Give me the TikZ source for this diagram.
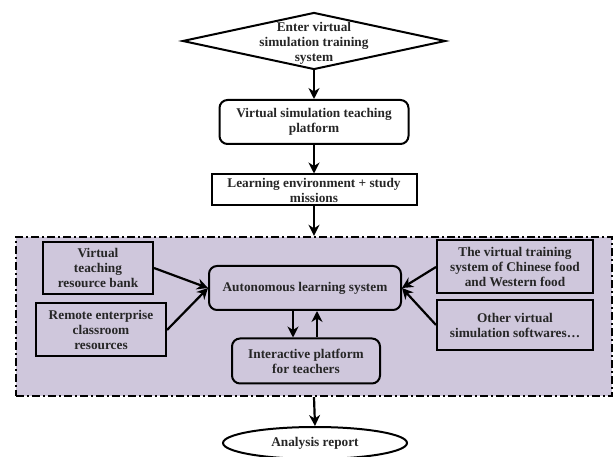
\documentclass[tikz,border=0pt]{standalone}
\usepackage{fontspec}
\setmainfont{Liberation Serif}
\usetikzlibrary{arrows.meta,shapes.geometric}
\definecolor{lilac}{HTML}{CFC7DC}
\begin{document}
\begin{tikzpicture}[x=1pt,y=-1pt,
    font=\bfseries\fontsize{13.3}{15}\selectfont, align=center, text=black!85,
    box/.style={draw,line width=2pt,inner sep=0pt},
    rbox/.style={box,rounded corners=8pt},
    arr/.style={-{Stealth[length=11pt,width=11pt]},line width=2.2pt}]
    \useasboundingbox (0,0) rectangle (614,457);
    \node[box,diamond,fill=white,minimum width=263pt,minimum height=57pt] (enter) at (314,41) {};
    \node (entertext) at (314,43) {Enter virtual\\ simulation training\\ system};
    \node[rbox,minimum width=189pt,minimum height=44pt] (platform) at (314,122) {Virtual simulation teaching\\ platform};
    \node[box,minimum width=205pt,minimum height=31pt] (learn) at (314,190) {Learning environment + study\\ missions};
    \node[draw,fill=lilac,line width=2.4pt,dash pattern=on 8pt off 3pt on 2pt off 3pt,
          minimum width=596pt,minimum height=159pt] (zone) at (314,316.5) {};
    \node[box,minimum width=110pt,minimum height=52pt] (bank) at (98,268) {Virtual\\ teaching\\ resource bank};
    \node[box,minimum width=130pt,minimum height=53pt] (remote) at (101,330) {Remote enterprise\\ classroom\\ resources};
    \node[rbox,minimum width=192pt,minimum height=44pt] (auto) at (305,288) {Autonomous learning system};
    \node[box,minimum width=156pt,minimum height=53pt] (cookery) at (515,267) {The virtual training\\ system of Chinese food\\ and Western food};
    \node[box,minimum width=156pt,minimum height=50pt] (other) at (515,325) {Other virtual\\ simulation softwares\dots};
    \node[rbox,minimum width=148pt,minimum height=45pt] (teachers) at (306,361) {Interactive platform\\ for teachers};
    \node[box,ellipse,fill=white,minimum width=184pt,minimum height=32pt] (report) at (315,443) {Analysis report};
    \draw[arr] (enter.south) -- (platform.north);
    \draw[arr] (platform.south) -- (learn.north);
    \draw[arr] (learn.south) -- (zone.north);
    \draw[arr] (bank.east) -- (auto.west);
    \draw[arr] (remote.east) -- (auto.west);
    \draw[arr] (cookery.west) -- (auto.east);
    \draw[arr] (other.west) -- (auto.east);
    \draw[arr] ([xshift=-12pt]auto.south) -- ([xshift=-13pt]teachers.north);
    \draw[arr] ([xshift=11pt]teachers.north) -- ([xshift=12pt]auto.south);
    \draw[arr] (zone.south) -- (report.north);
\end{tikzpicture}
\end{document}
